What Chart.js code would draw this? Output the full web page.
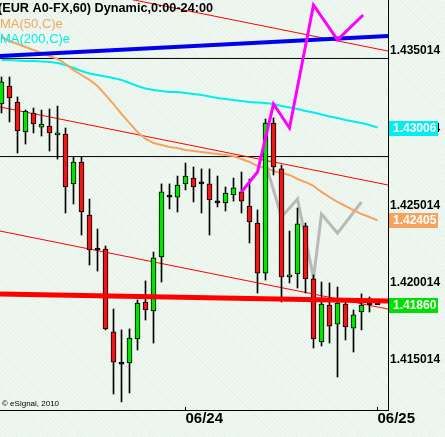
<!DOCTYPE html>
<html>
<head>
<meta charset="utf-8">
<script src="https://cdn.jsdelivr.net/npm/chart.js@4.4.1/dist/chart.umd.min.js"></script>
<style>
  html, body { margin: 0; padding: 0; }
  body {
    width: 445px; height: 437px; overflow: hidden;
    background-color: #eff8f0;
    background-image: repeating-linear-gradient(45deg, rgba(0,60,0,0.035) 0 1px, transparent 1px 3px);
  }
  canvas { display: block; }
</style>
</head>
<body>
<canvas id="chart" width="445" height="437"></canvas>
<script>
// hourly EUR A0-FX candles, index 0..47 (06/24 00:00 = 23, 06/25 00:00 = 47)
const opens  = [1.43158,1.43275,1.43171,1.42977,1.43100,1.43009,1.43016,1.42958,1.42964,1.42641,1.42783,1.42440,1.42213,1.42220,1.41683,1.41475,1.41482,1.41637,1.41877,1.41819,1.42168,1.42556,1.42556,1.42641,1.42679,1.42641,1.42641,1.42518,1.42518,1.42569,1.42589,1.42498,1.42388,1.42064,1.43035,1.42738,1.42039,1.42058,1.42369,1.42026,1.41618,1.41857,1.41734,1.41864,1.41708,1.41812,1.41860,1.41860];
const highs  = [1.43333,1.43333,1.43204,1.43119,1.43132,1.43119,1.43126,1.43145,1.43003,1.42815,1.42815,1.42543,1.42349,1.42239,1.41831,1.41696,1.41702,1.41890,1.42013,1.42200,1.42641,1.42641,1.42692,1.42776,1.42751,1.42738,1.42738,1.42692,1.42621,1.42679,1.42718,1.42673,1.42472,1.43061,1.43068,1.42763,1.42336,1.42485,1.42388,1.42052,1.42006,1.42000,1.41974,1.41896,1.41825,1.41929,1.41909,1.41860];
const lows   = [1.43100,1.43042,1.42841,1.42899,1.42971,1.42951,1.42854,1.42802,1.42453,1.42511,1.42310,1.42116,1.42077,1.41696,1.41281,1.41230,1.41288,1.41566,1.41760,1.41611,1.42006,1.42479,1.42459,1.42602,1.42524,1.42453,1.42310,1.42492,1.42466,1.42530,1.42453,1.42259,1.41935,1.42019,1.42699,1.41877,1.42000,1.41967,1.41935,1.41579,1.41592,1.41611,1.41391,1.41631,1.41553,1.41696,1.41812,1.41860];
const closes = [1.43301,1.43197,1.42984,1.43113,1.43029,1.43029,1.42971,1.42971,1.42621,1.42783,1.42459,1.42213,1.42213,1.41702,1.41488,1.41475,1.41644,1.41870,1.41825,1.42162,1.42589,1.42556,1.42634,1.42692,1.42621,1.42641,1.42537,1.42518,1.42582,1.42615,1.42530,1.42395,1.42064,1.43035,1.42751,1.42039,1.42052,1.42382,1.42026,1.41637,1.41864,1.41721,1.41870,1.41715,1.41793,1.41857,1.41860,1.41860];

const ma50  = [1.43592,1.43566,1.43547,1.43527,1.43508,1.43488,1.43469,1.43450,1.43417,1.43378,1.43346,1.43314,1.43275,1.43217,1.43158,1.43094,1.43035,1.42977,1.42932,1.42906,1.42893,1.42880,1.42873,1.42861,1.42854,1.42848,1.42841,1.42835,1.42828,1.42822,1.42802,1.42783,1.42757,1.42744,1.42725,1.42712,1.42699,1.42673,1.42653,1.42628,1.42589,1.42556,1.42524,1.42498,1.42472,1.42446,1.42427,1.42405];
const ma200 = [1.43443,1.43443,1.43440,1.43437,1.43437,1.43433,1.43430,1.43424,1.43411,1.43391,1.43372,1.43356,1.43346,1.43336,1.43327,1.43314,1.43294,1.43275,1.43259,1.43249,1.43242,1.43236,1.43236,1.43230,1.43223,1.43217,1.43207,1.43197,1.43191,1.43184,1.43178,1.43171,1.43168,1.43165,1.43158,1.43145,1.43136,1.43126,1.43113,1.43103,1.43090,1.43077,1.43068,1.43055,1.43045,1.43035,1.43022,1.43006];

// drawn lines: [price at left edge, price at right edge]
const blueLine    = [1.43469, 1.43598];
const channelTop  = [1.44006, 1.43501];
const channelMid  = [1.43139, 1.42634];
const channelLow  = [1.42336, 1.41831];
const supportLine = [1.41929, 1.41883];
const levelLines  = [1.43453, 1.42818];

// projection zigzags
const pinkX = [30, 32, 34, 36, 39, 42, 45.2];
const pinkY = [1.42589, 1.42718, 1.43158, 1.43003, 1.43799, 1.43573, 1.43734];
const greyX = [33, 35, 37, 39, 40, 42, 45];
const greyY = [1.42776, 1.42427, 1.42543, 1.42032, 1.42446, 1.42323, 1.42524];

const priceTicks = [1.415014, 1.420014, 1.425014, 1.430014, 1.435014];
const dateTicks = [23, 47];
const dateLabels = ['06/24', '06/25'];
const title = '(EUR A0-FX,60) Dynamic,0:00-24:00';

const xMin = -0.1875, xMax = 48.3125;
const yMin = 1.411777, yMax = 1.438314;

const last = closes.length - 1;
const edge = (pair) => [{ x: xMin, y: pair[0] }, { x: xMax, y: pair[1] }];
const series = (arr) => arr.map((v, i) => ({ x: i, y: v }));
const points = (xs, ys) => xs.map((x, i) => ({ x, y: ys[i] }));
const candleColor = closes.map((c, i) => c > opens[i] ? '#00e400' : (c < opens[i] ? '#ee1616' : '#000'));

function line(data, color, width, order) {
    return { type: 'line', data, borderColor: color, borderWidth: width, order,
             pointRadius: 0, fill: false, tension: 0 };
}

const overlay = {
    id: 'overlay',
    afterDraw(chart) {
        const { ctx, chartArea, scales } = chart;
        ctx.save();
        ctx.strokeStyle = '#000';
        ctx.lineWidth = 1;
        dateTicks.forEach(t => {
            const px = Math.round(scales.x.getPixelForValue(t)) - 0.5;
            ctx.beginPath();
            ctx.moveTo(px, chartArea.bottom - 3);
            ctx.lineTo(px, chartArea.bottom);
            ctx.stroke();
        });

        ctx.textAlign = 'left';
        ctx.textBaseline = 'alphabetic';
        ctx.font = 'bold 12.7px "Liberation Sans", Arial, sans-serif';
        ctx.fillStyle = '#000';
        ctx.fillText(title, -2, 12);
        ctx.font = '13px "Liberation Sans", Arial, sans-serif';
        ctx.fillStyle = '#f4a460';
        ctx.fillText('MA(50,C)e', 0, 28);
        ctx.fillStyle = '#00eeee';
        ctx.fillText('MA(200,C)e', 0, 43);
        ctx.font = '8px "Liberation Sans", Arial, sans-serif';
        ctx.fillStyle = '#000';
        ctx.fillText('\u00a9 eSignal, 2010', 2, 406);

        // last value boxes
        const boxes = [[ma200[last], '#00eeee'], [ma50[last], '#f4a460'], [closes[last], '#00e000']];
        ctx.font = 'bold 12px "Liberation Sans", Arial, sans-serif';
        ctx.textBaseline = 'middle';
        boxes.forEach(([v, color]) => {
            const py = Math.round(scales.y.getPixelForValue(v));
            ctx.fillStyle = color;
            ctx.fillRect(chartArea.right + 1, py - 7, 49, 15);
            ctx.fillStyle = '#fff';
            ctx.fillText(v.toFixed(5), chartArea.right + 5, py + 1);
        });
        ctx.restore();
    }
};

new Chart(document.getElementById('chart'), {
    data: {
        datasets: [
            line(edge([levelLines[0], levelLines[0]]), '#000', 1, 12),
            line(edge([levelLines[1], levelLines[1]]), '#000', 1, 12),
            line(edge(channelTop), '#ff0000', 1, 11),
            line(edge(channelMid), '#ff0000', 1, 11),
            line(edge(channelLow), '#ff0000', 1, 11),
            line(points(greyX, greyY), '#b9b9b9', 3, 10),
            line(series(ma50), '#f4a460', 2, 9),
            line(series(ma200), '#00eeee', 2, 9),
            {
                type: 'bar', order: 8, grouped: false, barThickness: 1,
                data: lows.map((l, i) => ({ x: i, y: [l, highs[i]] })),
                backgroundColor: '#000', borderWidth: 0
            },
            {
                type: 'bar', order: 7, grouped: false, barThickness: 5, minBarLength: 2,
                data: opens.map((o, i) => ({ x: i, y: [o, closes[i]] })),
                backgroundColor: candleColor, borderColor: '#000', borderWidth: 1, borderSkipped: false
            },
            line(edge(supportLine), '#ff0000', 5, 6),
            line(edge(blueLine), '#0000ee', 4, 5),
            line(points(pinkX, pinkY), '#ff00ff', 3, 4)
        ]
    },
    options: {
        responsive: false,
        animation: false,
        devicePixelRatio: 1,
        layout: { padding: 0 },
        plugins: { legend: { display: false }, tooltip: { enabled: false } },
        scales: {
            x: {
                type: 'linear', min: xMin, max: xMax, offset: false,
                afterBuildTicks: s => { s.ticks = dateTicks.map(v => ({ value: v })); },
                afterFit: s => { s.height = 27; s.paddingLeft = 0; s.paddingRight = 0; },
                ticks: {
                    autoSkip: false, maxRotation: 0, align: 'start', padding: 0, color: '#000',
                    font: { family: '"Liberation Sans Narrow", "Liberation Sans", Arial', size: 15, weight: 'bold' },
                    callback: v => dateLabels[dateTicks.indexOf(v)]
                },
                grid: { display: false, drawTicks: false, offset: false },
                border: { display: true, color: '#000', width: 1 }
            },
            y: {
                type: 'linear', position: 'right', min: yMin, max: yMax,
                afterBuildTicks: s => { s.ticks = priceTicks.map(v => ({ value: v })); },
                afterFit: s => { s.width = 57; s.paddingTop = 0; s.paddingBottom = 0; },
                ticks: {
                    autoSkip: false, padding: 2, color: '#000',
                    font: { family: '"Liberation Sans", Arial', size: 12, weight: 'bold' },
                    callback: v => v.toFixed(6)
                },
                grid: { display: false, drawTicks: false },
                border: { display: true, color: '#000', width: 1 }
            }
        }
    },
    plugins: [overlay]
});
</script>
</body>
</html>
